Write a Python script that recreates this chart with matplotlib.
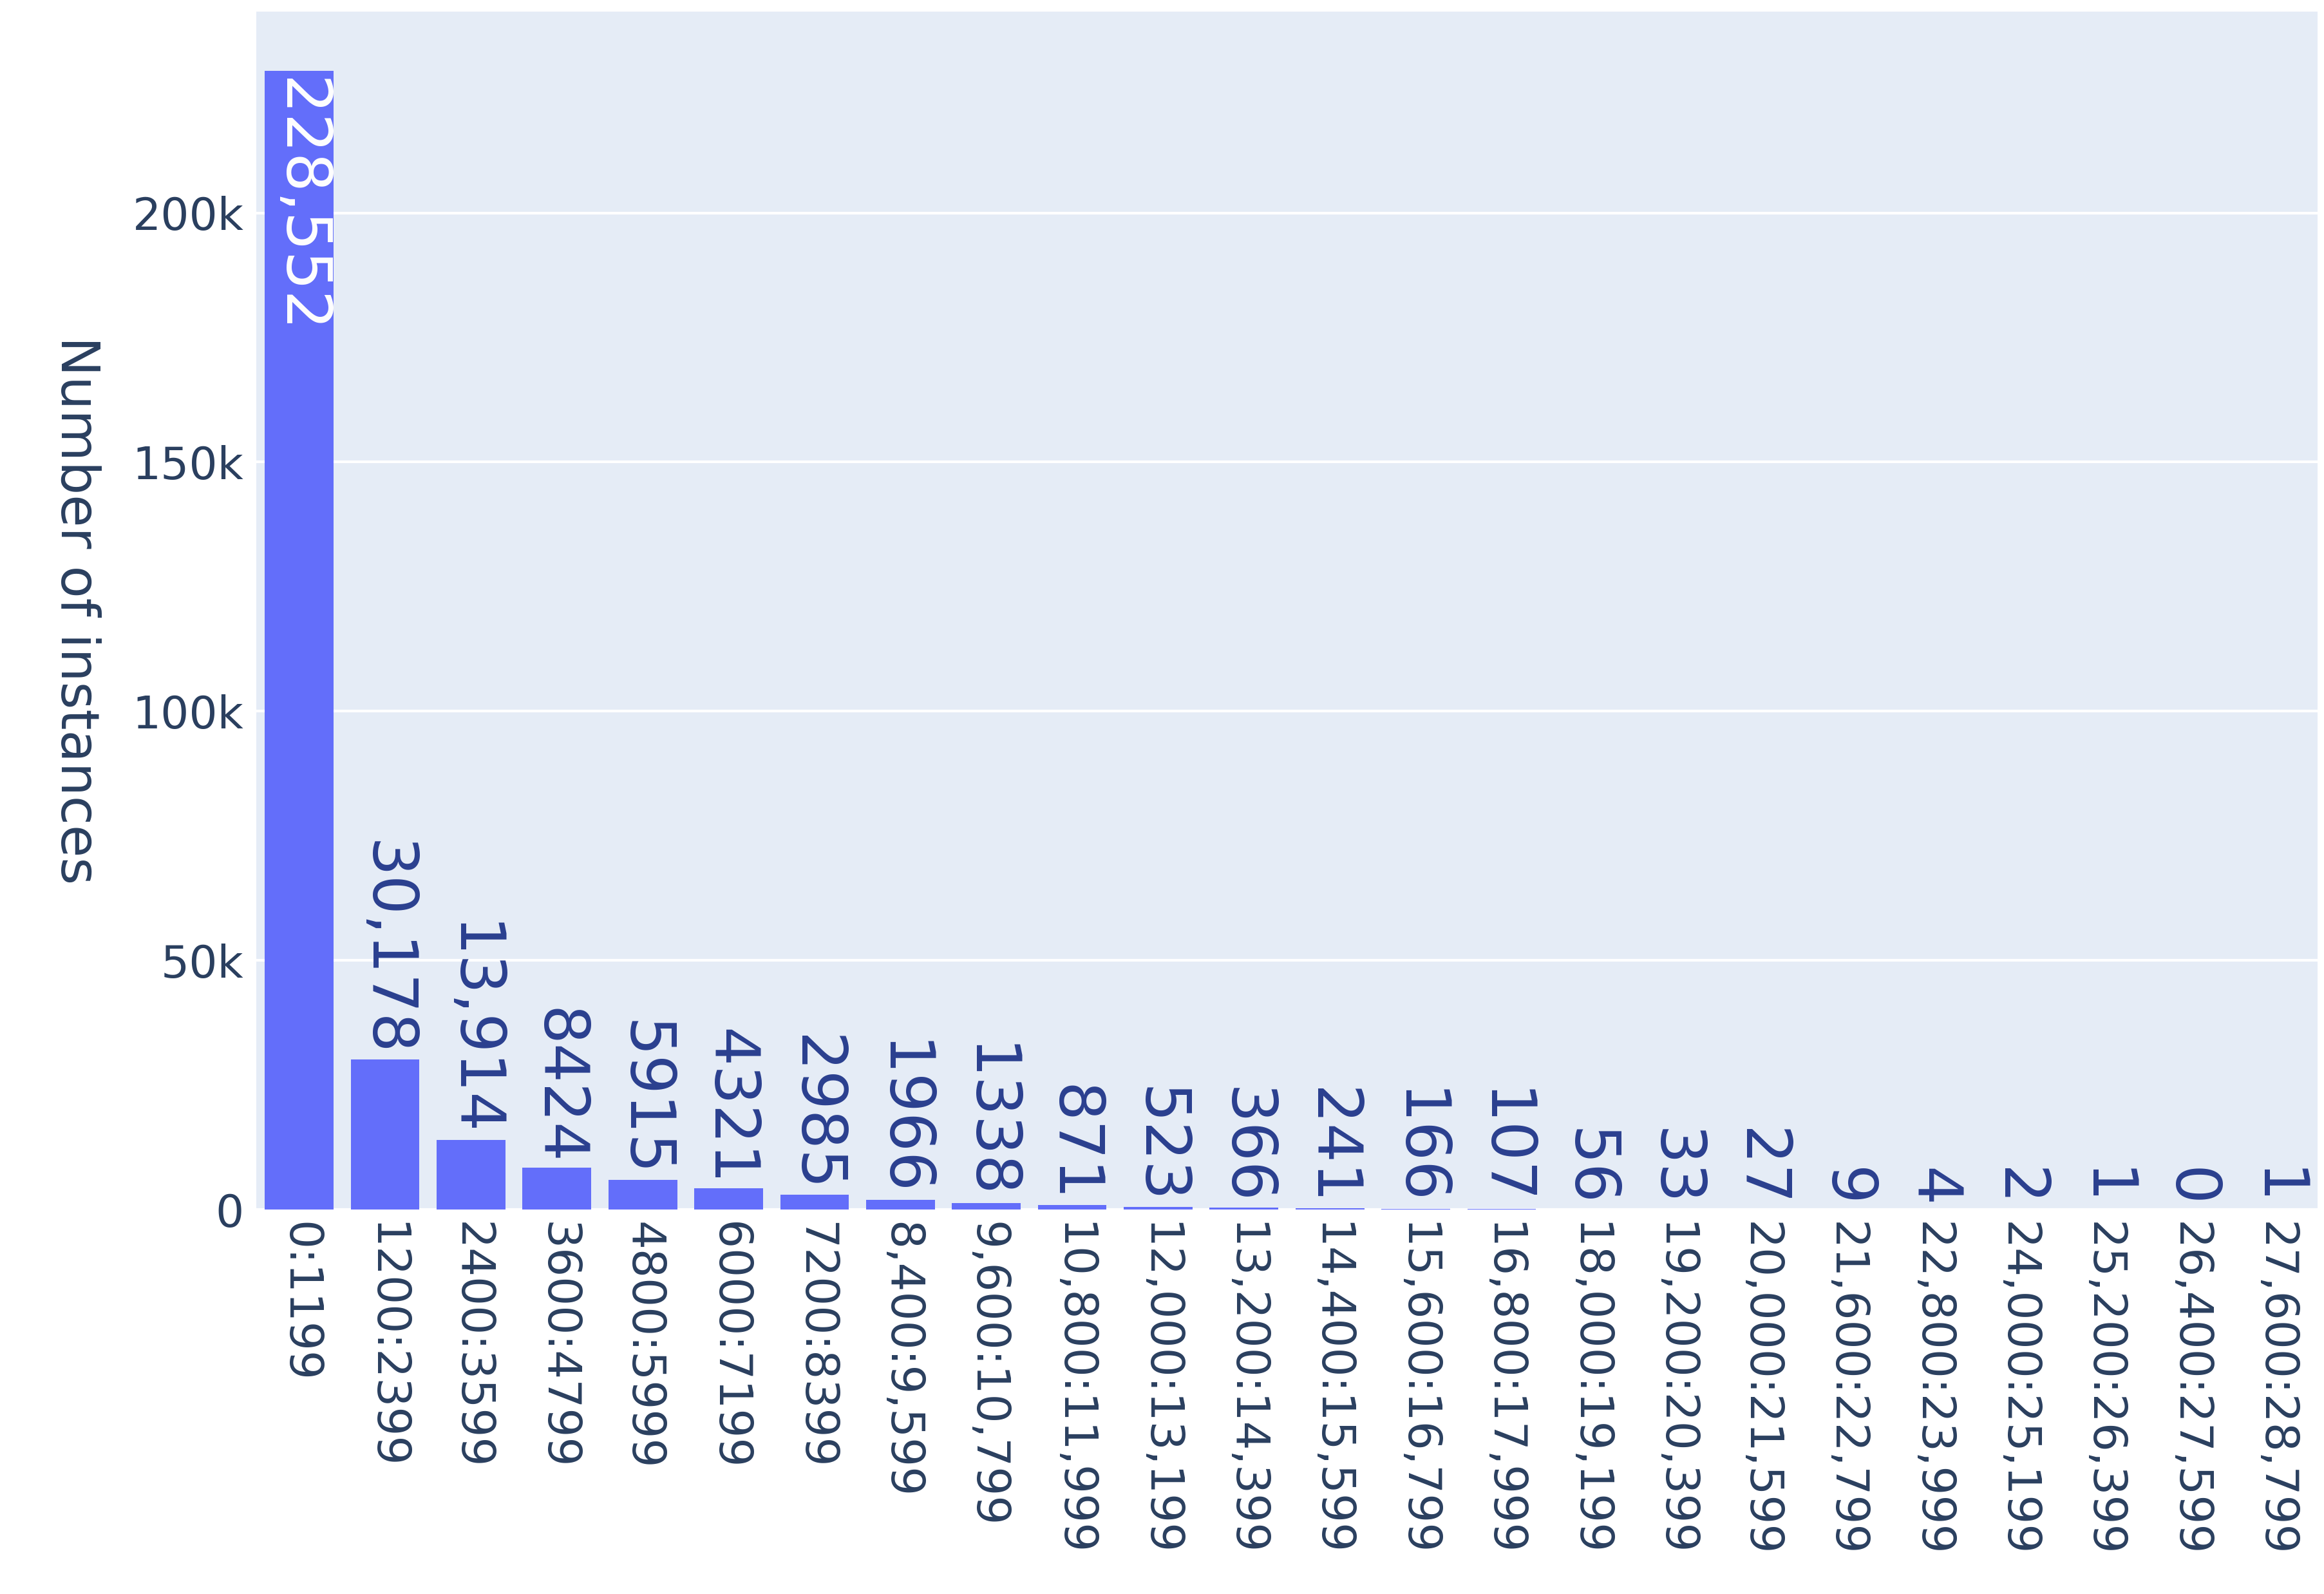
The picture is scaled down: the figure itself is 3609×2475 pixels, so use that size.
import matplotlib
matplotlib.use("Agg")
import matplotlib.pyplot as plt

categories = ["0:1199", "1200:2399", "2400:3599", "3600:4799", "4800:5999", "6000:7199",
              "7200:8399", "8,400:9,599", "9,600:10,799", "10,800:11,999", "12,000:13,199",
              "13,200:14,399", "14,400:15,599", "15,600:16,799", "16,800:17,999",
              "18,000:19,199", "19,200:20,399", "20,000:21,599", "21,600:22,799",
              "22,800:23,999", "24,000:25,199", "25,200:26,399", "26,400:27,599",
              "27,600:28,799"]
values = [228552, 30178, 13914, 8424, 5915, 4321, 2985, 1966, 1338, 871, 523, 366,
          241, 166, 107, 56, 33, 27, 9, 4, 2, 1, 0, 1]
ytick_vals = [0, 50000, 100000, 150000, 200000]
ytick_labels = ["0", "50k", "100k", "150k", "200k"]

fig = plt.figure(figsize=(36.09, 24.75), dpi=100)
ax = fig.add_axes([398/3609, 1-1878/2475, (3599-398)/3609, (1878-18)/2475])
ax.set_facecolor("#E5ECF6")
x = list(range(len(values)))
ax.bar(x, values, width=0.8, color="#636EFA", zorder=3)
ax.set_xlim(-0.5, len(values)-0.5)
ax.set_ylim(0, 240400)
ax.set_yticks(ytick_vals)
ax.set_yticklabels(ytick_labels, fontsize=50, color="#2a3f5f")
ax.grid(axis="y", color="white", linewidth=3, zorder=0)
ax.set_axisbelow(True)
ax.set_xticks(x)
ax.set_xticklabels(categories, rotation=-90, fontsize=51, color="#2a3f5f")
ax.tick_params(length=0, pad=14)
for s in ax.spines.values():
    s.set_visible(False)
ax.set_ylabel("Number of instances", rotation=-90, fontsize=59, color="#2a3f5f")
ax.yaxis.set_label_coords(-0.1, 0.5)

for xi, v in zip(x, values):
    lab = f"{v:,}" if v >= 10000 else str(v)
    if v > 100000:
        ax.text(xi, v - 1500, lab, rotation=-90, ha="center", va="top", fontsize=69, color="white", zorder=4)
    else:
        ax.text(xi, v + 500, lab, rotation=-90, ha="center", va="bottom", fontsize=69, color="#2a3f8f", zorder=4)

fig.savefig("out.png", dpi=100)
